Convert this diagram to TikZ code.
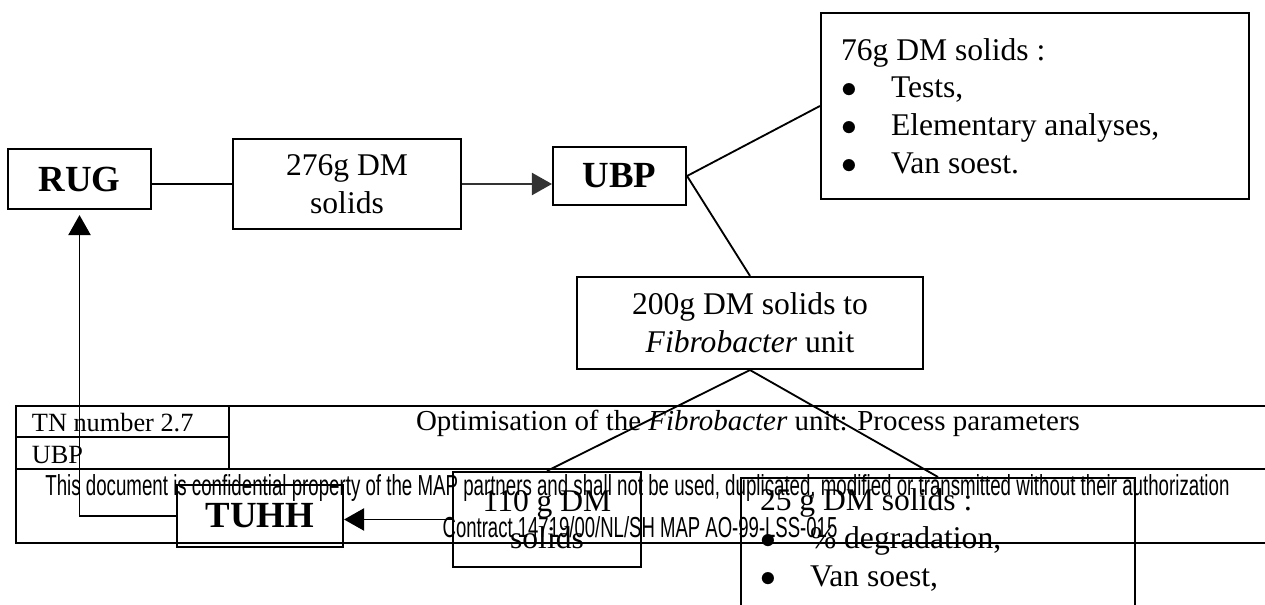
\documentclass[tikz,border=0pt]{standalone}
\usepackage{fontspec}
\usepackage{graphicx}
\setmainfont{Liberation Serif}
\newfontfamily\narrowsans{Liberation Sans}
\usetikzlibrary{arrows.meta}
\newlength\pxu
\setlength\pxu{0.38pt}
\newcommand\bull{\makebox[19pt][l]{$\bullet$}}

\begin{document}
\begin{tikzpicture}[x=0.38pt,y=-0.38pt,line width=0.7pt,>={Triangle[length=7.6pt,width=8.4pt]},
  box/.style={draw,line width=0.8pt,inner sep=0pt,align=flush center,font=\fontsize{12}{14.3}\selectfont},
  lab/.style={box,font=\fontsize{14}{16}\selectfont\bfseries},
  frame/.style={line width=1.1pt}]
  \useasboundingbox (0,0) rectangle (1265,605);
  \node[lab,minimum width=143\pxu,minimum height=60\pxu] (rug) at (79.5,179) {RUG};
  \node[box,minimum width=228\pxu,minimum height=90\pxu] (dm276) at (347,184) {276g DM\\solids};
  \node[lab,minimum width=133\pxu,minimum height=58\pxu] (ubp) at (619.5,176) {UBP};
  \node[box,align=flush left,text width=388\pxu,inner xsep=20\pxu,minimum height=186\pxu] (dm76) at (1035,106)
    {76g DM solids :\\ \bull Tests,\\ \bull Elementary analyses,\\ \bull Van soest.};
  \node[box,minimum width=346\pxu,minimum height=92\pxu] (dm200) at (750,323) {200g DM solids to\\\textit{Fibrobacter} unit};
  \node[box,minimum width=188\pxu,minimum height=95\pxu] (dm110) at (547,519.5) {110 g DM\\solids};
  \node[lab,minimum width=166\pxu,minimum height=62\pxu] (tuhh) at (260,516) {TUHH};
  \node[box,align=flush left,anchor=north,text width=356\pxu,inner xsep=19\pxu,inner ysep=11\pxu] (dm25) at (938,477)
    {25 g DM solids :\\ \bull \% degradation,\\ \bull Van soest,\\ \mbox{}};
  \draw (rug.east |- dm276.west) -- (dm276.west);
  \draw[->,black!80] (dm276.east) -- (dm276.east -| ubp.west);
  \draw (ubp.east) -- (dm76.west);
  \draw (ubp.east) -- (dm200.north);
  \draw (dm200.south) -- (dm110.north);
  \draw (dm200.south) -- (dm25.north);
  \draw[->] (dm110.west) -- (dm110.west -| tuhh.east);
  \draw[->,shorten >=1.9pt] (tuhh.west) -| (rug.south);
  \draw[frame] (16,406) rectangle (1267,543);
  \draw[frame] (16,437) -- (229,437) (16,469) -- (1267,469) (229,406) -- (229,469);
  \node[anchor=west,inner sep=0pt,font=\fontsize{10}{12}\selectfont] (tn) at (31,423) {TN number 2.7};
  \node[anchor=west,inner sep=0pt,font=\fontsize{10}{12}\selectfont] (org) at (31,455) {UBP};
  \node[inner sep=0pt,font=\fontsize{11}{13}\selectfont] (title) at (748,423) {Optimisation of the \textit{Fibrobacter} unit: Process parameters};
  \node[inner sep=0pt,font=\narrowsans\fontsize{11}{13}\selectfont] (conf) at (637.5,488)
    {\resizebox{450pt}{\height}{This document is confidential property of the MAP partners and shall not be used, duplicated, modified or transmitted without their authorization}};
  \node[inner sep=0pt,font=\narrowsans\fontsize{11}{13}\selectfont] (contract) at (640,527)
    {\resizebox{150pt}{\height}{Contract 14719/00/NL/SH MAP AO-99-LSS-015}};
\end{tikzpicture}
\end{document}
